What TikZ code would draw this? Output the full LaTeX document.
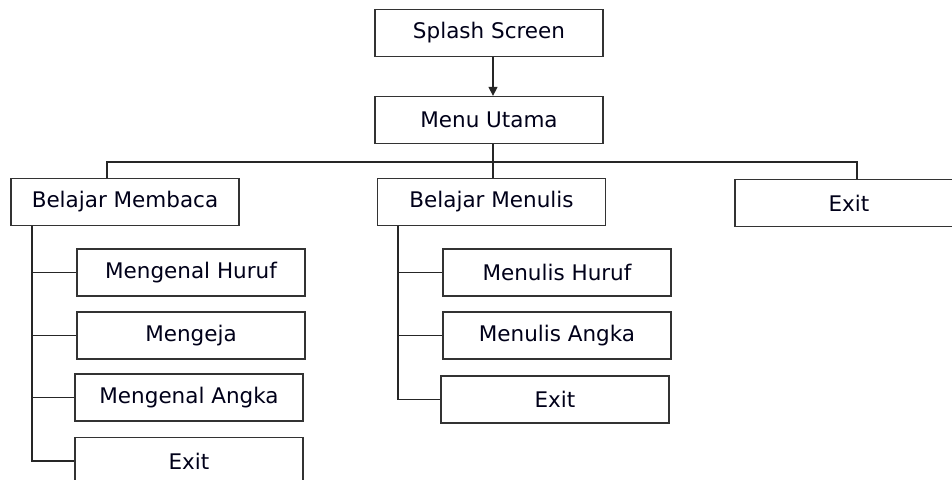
\documentclass[tikz,border=0pt]{standalone}
\usepackage{fontspec}
\setmainfont{DejaVu Sans}
\usetikzlibrary{arrows.meta}
\begin{document}
\begin{tikzpicture}[x=1pt,y=-1pt,
  box/.style={draw=black!80,line width=1.3pt,fill=white,minimum width=228pt,minimum height=47pt,inner sep=0pt,font=\fontsize{21.5}{25}\selectfont,text=black!90!blue},
  conn/.style={draw=black!85,line width=1.3pt}]
\useasboundingbox (0,0) rectangle (952,479);
\clip (0,0) rectangle (952,479);
% nodes (positions = box centres)
\node[box] (splash) at (489,33) {Splash Screen};
\node[box] (menu) at (489,120) {Menu Utama};
\node[box] (baca) at (125,202) {Belajar Membaca};
\node[box] (tulis) at (491.5,202) {Belajar Menulis};
\node[box] (exit) at (849,203) {Exit};
\node[box] (huruf) at (191,272.5) {Mengenal Huruf};
\node[box] (eja) at (191,335.5) {Mengeja};
\node[box] (angka) at (189,397.5) {Mengenal Angka};
\node[box] (exitb) at (189,461) {Exit};
\node[box] (thuruf) at (557,272.5) {Menulis Huruf};
\node[box] (tangka) at (557,335.5) {Menulis Angka};
\node[box] (texit) at (555,399.5) {Exit};
% connectors
\coordinate (bus) at (493,162);
\draw[conn,-{Triangle[width=9pt,length=9pt]}] (splash.south -| bus) -- (menu.north -| bus);
\draw[conn] (menu.south -| bus) -- (bus);
\draw[conn] (baca.north -| 107,0) |- (bus) -| (exit.north -| 857,0);
\draw[conn] (bus) -- (tulis.north -| bus);
% Belajar Membaca children
\coordinate (tb) at (32,0);
\draw[conn] (baca.south -| tb) |- (exitb.west);
\draw[conn] (huruf.west) -- (huruf.west -| tb);
\draw[conn] (eja.west) -- (eja.west -| tb);
\draw[conn] (angka.west) -- (angka.west -| tb);
% Belajar Menulis children
\coordinate (tt) at (398,0);
\draw[conn] (tulis.south -| tt) |- (texit.west);
\draw[conn] (thuruf.west) -- (thuruf.west -| tt);
\draw[conn] (tangka.west) -- (tangka.west -| tt);
\end{tikzpicture}
\end{document}
